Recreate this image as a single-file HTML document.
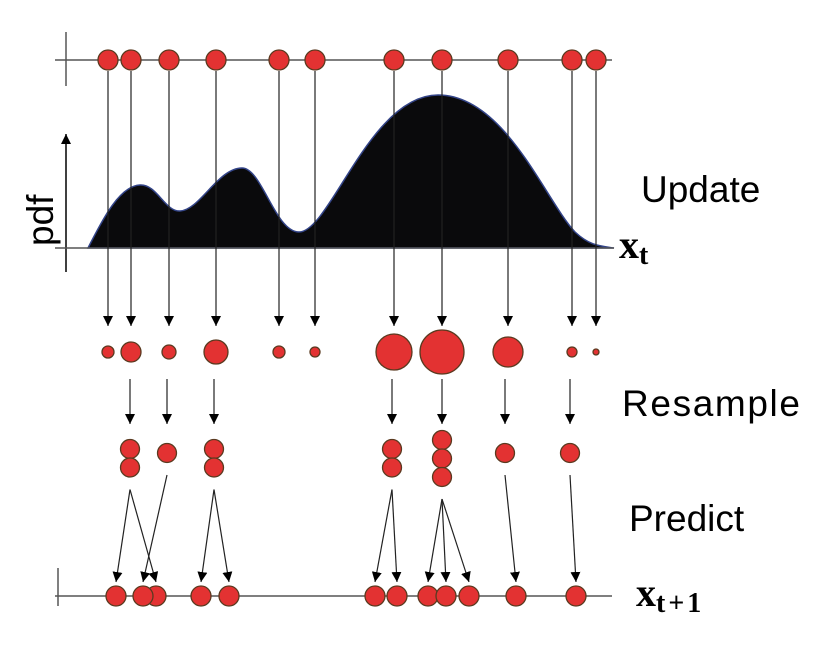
<!DOCTYPE html>
<html><head><meta charset="utf-8"><style>
html,body{margin:0;padding:0;background:#fff;}
svg{display:block;}
.lbl{font-family:"Liberation Sans",sans-serif;font-size:37px;fill:#000;}
.math{font-family:"Liberation Serif",serif;font-weight:bold;fill:#000;}
</style></head><body>
<svg id="fig" width="816" height="653" viewBox="0 0 816 653">
<defs>
<marker id="ah" viewBox="0 0 10 10" refX="10" refY="5" markerWidth="10" markerHeight="10" markerUnits="userSpaceOnUse" orient="auto">
<path d="M0,0 L10,5 L0,10 z" fill="#000"/></marker>
</defs>
<g id="axes">
<line x1="55" y1="60" x2="612" y2="60" stroke="#555" stroke-width="1.5"/>
<line x1="66" y1="32" x2="66" y2="86" stroke="#555" stroke-width="1.5"/>
<line x1="66" y1="272" x2="66" y2="134" stroke="#000" stroke-width="1.5" marker-end="url(#ah)"/>
<line x1="55" y1="596" x2="612" y2="596" stroke="#555" stroke-width="1.5"/>
<line x1="58" y1="568" x2="58" y2="606" stroke="#555" stroke-width="1.5"/>
</g>
<text class="lbl" x="0" y="0" font-size="36" transform="translate(53,246) rotate(-90)">pdf</text>
<path id="pdf" fill="#0a0a0c" stroke="#334488" stroke-width="1.5"
d="M88,248 C100,225 118,186 140,185 C157,184 165,212 180,211 C200,210 218,168 242,168 C262,168 275,232 299,232 C330,232 370,95 438,95 C505,95 545,200 575,232 C590,246 600,246 614,248 L88,248 Z"/>
<line x1="55" y1="248" x2="614" y2="248" stroke="#555" stroke-width="1.5"/>
<g id="marks"></g>
<text class="lbl" x="641" y="202">Update</text>
<text class="lbl" x="622" y="416" textLength="178">Resample</text>
<text class="lbl" x="629" y="531">Predict</text>
<text class="math" x="619" y="258" font-size="40">x<tspan font-size="28" dy="6">t</tspan></text>
<text class="math" x="636" y="606" font-size="40">x<tspan font-size="28" dy="6" letter-spacing="3">t+1</tspan></text>
</svg>
<script>
// particle positions along state axis
const particleX = [108,131,169,216,279,315,394,442,508,572,596];
// weights (drawn as radii after update)
const weightR = [6,10,7,12,6,5,18,22,15,5,3];
// resample groups: source x and copies count
const resampleX = [130,167,214,392,442,505,570];
const resampleN = [2,1,2,2,3,1,1];
// predicted particle x for each resampled copy (per group)
const predictX = [[116,156],[143],[201,229],[375,397],[428,446,469],[516],[576]];

const NS="http://www.w3.org/2000/svg";
const g=document.getElementById('marks');
function mk(tag,attrs){const e=document.createElementNS(NS,tag);for(const k in attrs)e.setAttribute(k,attrs[k]);g.appendChild(e);return e;}
function arrow(x1,y1,x2,y2){const e=mk('line',{x1,y1,x2,y2,stroke:'#222','stroke-width':1.2,'marker-end':'url(#ah)'});

}
function dot(cx,cy,r,name){const e=mk('circle',{cx,cy,r,fill:'#e33232',stroke:'#5a3a20','stroke-width':1.3});

}
const yTop=60,yW=352,yBot=596;
particleX.forEach((x,i)=>{arrow(x,71,x,326);});
particleX.forEach((x,i)=>{dot(x,yTop,10,'prior-particle');});
particleX.forEach((x,i)=>{dot(x,yW,weightR[i],'weighted-particle');});
resampleX.forEach((x,i)=>{
  const n=resampleN[i];
  arrow(x,379,x,424);
  const y0=n===3?440:(n===2?449:453);
  const srcY=y0+(n-1)*18.5+22;
  predictX[i].forEach(px=>arrow(x,srcY,px,582));
  for(let k=0;k<n;k++)dot(x,y0+k*18.5,9.5,'resampled-particle');
});
predictX.flat().forEach(px=>dot(px,yBot,10,'predicted-particle'));
</script>
</body></html>
